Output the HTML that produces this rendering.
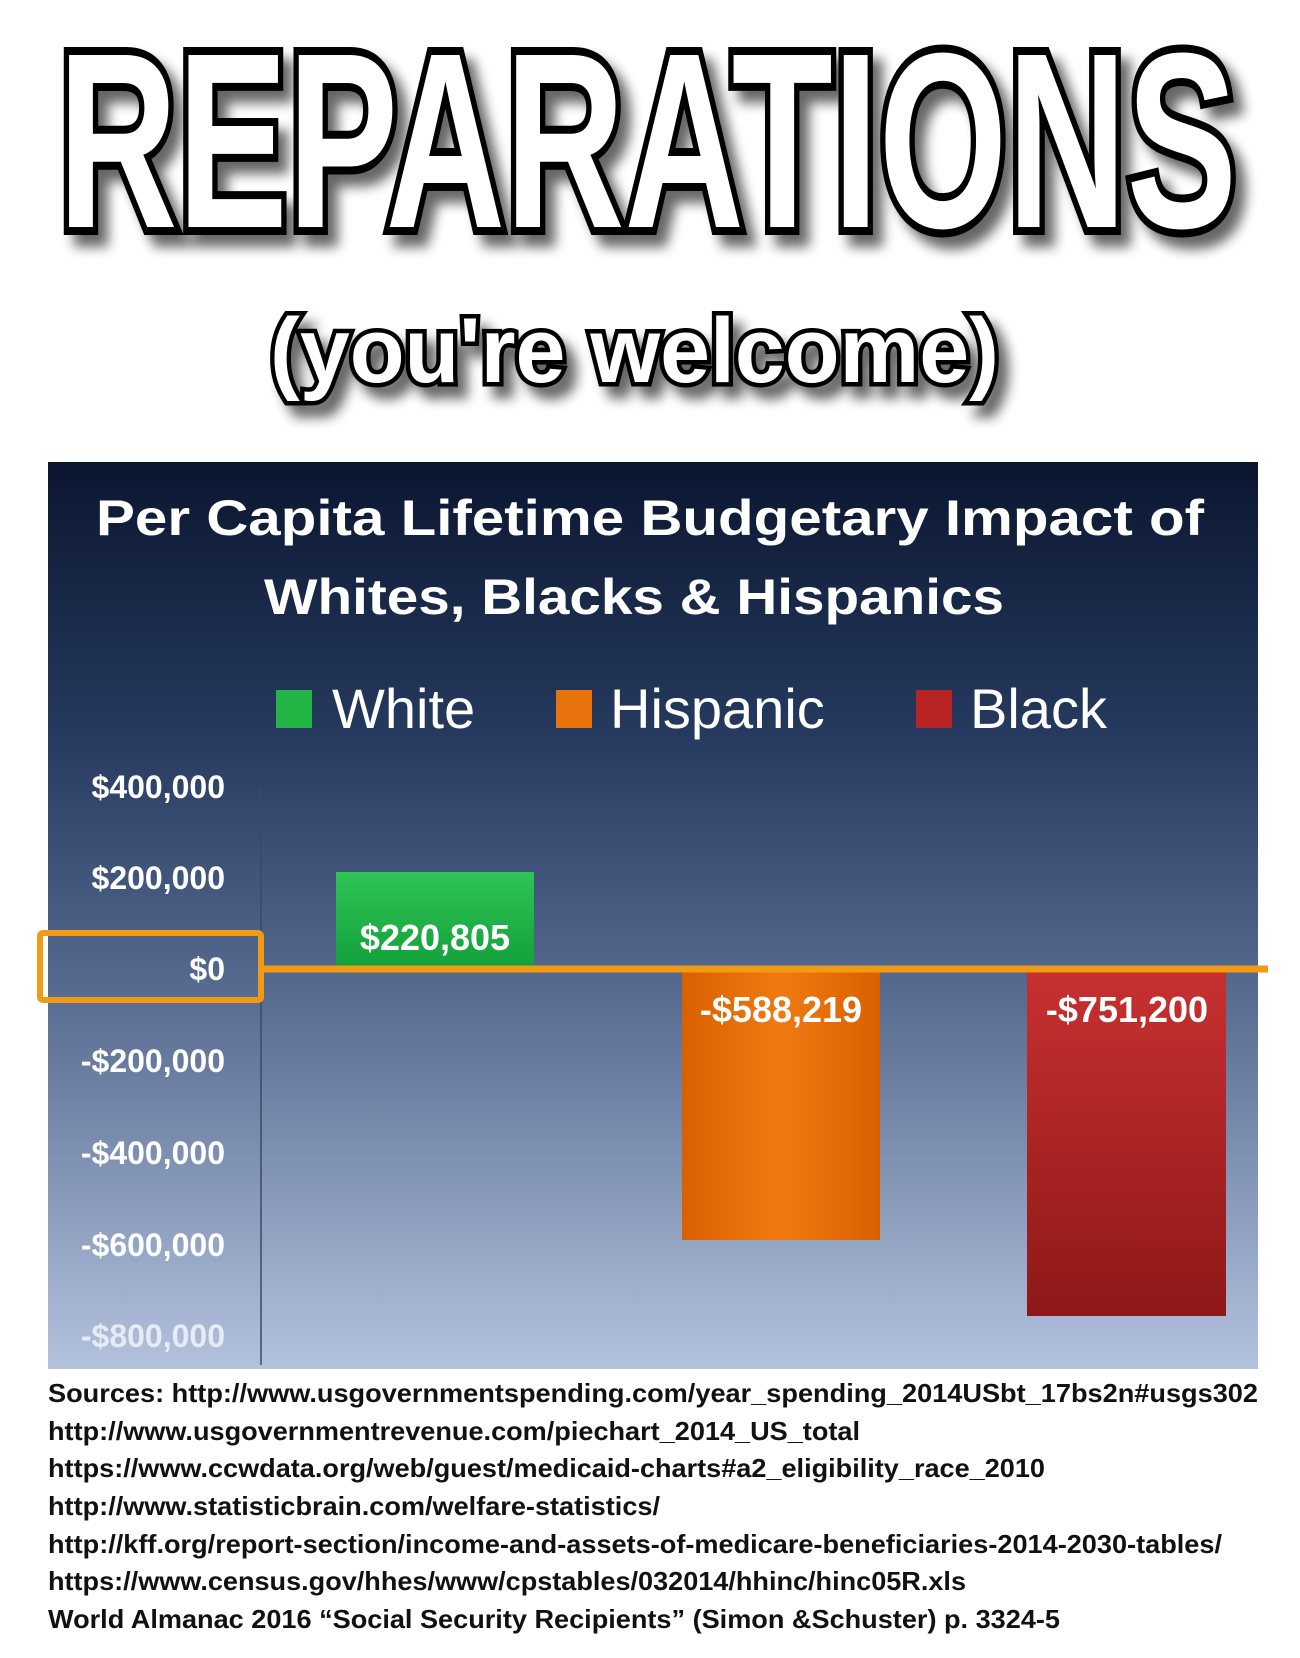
<!DOCTYPE html>
<html><head><meta charset="utf-8"><style>
html,body{margin:0;padding:0;background:#fff;}
svg{display:block;}
</style></head><body>
<svg width="1300" height="1658" viewBox="0 0 1300 1658" xmlns="http://www.w3.org/2000/svg">
<defs>
<linearGradient id="bg" x1="0" y1="0" x2="0" y2="1">
<stop offset="0" stop-color="#0b1630"/>
<stop offset="0.3" stop-color="#253a5e"/>
<stop offset="0.6" stop-color="#5a6e93"/>
<stop offset="1" stop-color="#b3c2de"/>
</linearGradient>
<linearGradient id="gw" x1="0" y1="0" x2="0" y2="1"><stop offset="0" stop-color="#2fc455"/><stop offset="1" stop-color="#12a03a"/></linearGradient>
<linearGradient id="go" x1="0" y1="0" x2="1" y2="0"><stop offset="0" stop-color="#d86000"/><stop offset="0.5" stop-color="#f07a10"/><stop offset="1" stop-color="#d86000"/></linearGradient>
<linearGradient id="gr" x1="0" y1="0" x2="0" y2="1"><stop offset="0" stop-color="#c83030"/><stop offset="1" stop-color="#8e1818"/></linearGradient>
<filter id="sh" x="-5%" y="-10%" width="115%" height="130%"><feGaussianBlur in="SourceAlpha" stdDeviation="6"/><feOffset dx="10" dy="12"/><feComponentTransfer><feFuncA type="linear" slope="0.6"/></feComponentTransfer><feMerge><feMergeNode/><feMergeNode in="SourceGraphic"/></feMerge></filter>
</defs>
<g filter="url(#sh)" font-family="Liberation Sans, sans-serif" font-weight="bold" fill="#fff" stroke="#000" paint-order="stroke">
<text x="58" y="227" font-size="250" textLength="1179" lengthAdjust="spacingAndGlyphs" stroke-width="16">REPARATIONS</text>
<text x="270" y="382" font-size="92" textLength="729" lengthAdjust="spacingAndGlyphs" stroke-width="9">(you're welcome)</text>
</g>
<rect x="48" y="462" width="1210" height="907" fill="url(#bg)"/>
<g font-family="Liberation Sans, sans-serif" font-weight="bold" fill="#fff">
<text x="650" y="535" font-size="50" text-anchor="middle" textLength="1108" lengthAdjust="spacingAndGlyphs">Per Capita Lifetime Budgetary Impact of</text>
<text x="634" y="614" font-size="50" text-anchor="middle" textLength="740" lengthAdjust="spacingAndGlyphs">Whites, Blacks &amp; Hispanics</text>
</g>
<g font-family="Liberation Sans, sans-serif" fill="#fff" font-size="56">
<rect x="276" y="690" width="36" height="38" fill="#22b545"/>
<text x="332" y="728">White</text>
<rect x="556" y="690" width="36" height="38" fill="#e8720c"/>
<text x="610" y="728">Hispanic</text>
<rect x="916" y="690" width="36" height="38" fill="#b82424"/>
<text x="970" y="728">Black</text>
</g>
<g font-family="Liberation Sans, sans-serif" font-weight="bold" fill="#fff" font-size="32" text-anchor="end">
<text x="225" y="798">$400,000</text>
<text x="225" y="889">$200,000</text>
<text x="225" y="980">$0</text>
<text x="225" y="1072">-$200,000</text>
<text x="225" y="1164">-$400,000</text>
<text x="225" y="1256">-$600,000</text>
<text x="225" y="1347" fill="#e6ecf6">-$800,000</text>
</g>
<line x1="261" y1="787" x2="261" y2="1365" stroke="#3a4a66" stroke-width="1.5"/>
<rect x="336" y="872" width="198" height="96" fill="url(#gw)"/>
<rect x="682" y="972" width="198" height="268" fill="url(#go)"/>
<rect x="1027" y="972" width="199" height="344" fill="url(#gr)"/>
<g font-family="Liberation Sans, sans-serif" font-weight="bold" fill="#fff" font-size="36" text-anchor="middle">
<text x="435" y="950">$220,805</text>
<text x="781" y="1022">-$588,219</text>
<text x="1127" y="1022">-$751,200</text>
</g>
<rect x="40" y="933" width="221" height="67" fill="none" stroke="#f39a14" stroke-width="6" rx="3"/>
<line x1="261" y1="969" x2="1268" y2="969" stroke="#f39a14" stroke-width="7"/>
<g font-family="Liberation Sans, sans-serif" font-weight="bold" fill="#111" font-size="26">
<text x="48" y="1402" textLength="1210" lengthAdjust="spacingAndGlyphs">Sources: http://www.usgovernmentspending.com/year_spending_2014USbt_17bs2n#usgs302</text>
<text x="48" y="1440" textLength="812" lengthAdjust="spacingAndGlyphs">http://www.usgovernmentrevenue.com/piechart_2014_US_total</text>
<text x="48" y="1477" textLength="997" lengthAdjust="spacingAndGlyphs">https://www.ccwdata.org/web/guest/medicaid-charts#a2_eligibility_race_2010</text>
<text x="48" y="1515" textLength="612" lengthAdjust="spacingAndGlyphs">http://www.statisticbrain.com/welfare-statistics/</text>
<text x="48" y="1553" textLength="1174" lengthAdjust="spacingAndGlyphs">http://kff.org/report-section/income-and-assets-of-medicare-beneficiaries-2014-2030-tables/</text>
<text x="48" y="1590" textLength="918" lengthAdjust="spacingAndGlyphs">https://www.census.gov/hhes/www/cpstables/032014/hhinc/hinc05R.xls</text>
<text x="48" y="1628" textLength="1012" lengthAdjust="spacingAndGlyphs">World Almanac 2016 “Social Security Recipients” (Simon &amp;Schuster) p. 3324-5</text>
</g>
</svg>
</body></html>
